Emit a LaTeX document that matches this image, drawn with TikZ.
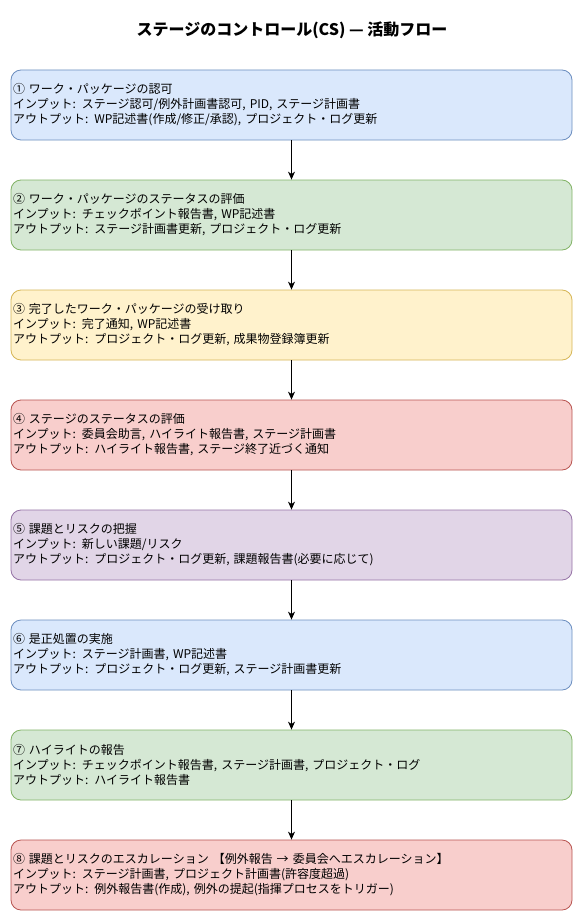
\documentclass[tikz,border=0pt]{standalone}
\usepackage{fontspec}
\setmainfont{Noto Sans CJK JP}
\usetikzlibrary{arrows.meta}
\definecolor{bfill}{HTML}{DAE8FC}\definecolor{bline}{HTML}{6C8EBF}
\definecolor{gfill}{HTML}{D5E8D4}\definecolor{gline}{HTML}{82B366}
\definecolor{yfill}{HTML}{FFF2CC}\definecolor{yline}{HTML}{D6B656}
\definecolor{rfill}{HTML}{F8CECC}\definecolor{rline}{HTML}{B85450}
\definecolor{pfill}{HTML}{E1D5E7}\definecolor{pline}{HTML}{9673A6}
\begin{document}
\begin{tikzpicture}[x=1pt,y=-1pt,
  stepbox/.style={rounded corners=10pt, line width=0.8pt, minimum height=70pt,
    text width=557pt, inner xsep=2pt, inner ysep=0pt, align=left,
    font=\fontsize{12}{15}\selectfont},
  blue/.style={stepbox, fill=bfill, draw=bline},
  green/.style={stepbox, fill=gfill, draw=gline},
  yellow/.style={stepbox, fill=yfill, draw=yline},
  red/.style={stepbox, fill=rfill, draw=rline},
  purple/.style={stepbox, fill=pfill, draw=pline},
  flow/.style={-{Stealth[length=8pt,width=7pt,inset=2.5pt]}, line width=0.8pt, black}]
\useasboundingbox (0,0) rectangle (584,923);
\fill[white] (0,0) rectangle (584,923);
\node[font=\fontsize{16}{19}\bfseries\selectfont] (title) at (292,30) {ステージのコントロール(CS) — 活動フロー};
\node[blue] (b1) at (291.5,105) {① ワーク・パッケージの認可\\インプット: ステージ認可/例外計画書認可, PID, ステージ計画書\\アウトプット: WP記述書(作成/修正/承認), プロジェクト・ログ更新};
\node[green] (b2) at (291.5,215) {② ワーク・パッケージのステータスの評価\\インプット: チェックポイント報告書, WP記述書\\アウトプット: ステージ計画書更新, プロジェクト・ログ更新};
\node[yellow] (b3) at (291.5,325) {③ 完了したワーク・パッケージの受け取り\\インプット: 完了通知, WP記述書\\アウトプット: プロジェクト・ログ更新, 成果物登録簿更新};
\node[red] (b4) at (291.5,435) {④ ステージのステータスの評価\\インプット: 委員会助言, ハイライト報告書, ステージ計画書\\アウトプット: ハイライト報告書, ステージ終了近づく通知};
\node[purple] (b5) at (291.5,545) {⑤ 課題とリスクの把握\\インプット: 新しい課題/リスク\\アウトプット: プロジェクト・ログ更新, 課題報告書(必要に応じて)};
\node[blue] (b6) at (291.5,655) {⑥ 是正処置の実施\\インプット: ステージ計画書, WP記述書\\アウトプット: プロジェクト・ログ更新, ステージ計画書更新};
\node[green] (b7) at (291.5,765) {⑦ ハイライトの報告\\インプット: チェックポイント報告書, ステージ計画書, プロジェクト・ログ\\アウトプット: ハイライト報告書};
\node[red] (b8) at (291.5,875) {⑧ 課題とリスクのエスカレーション 【例外報告 → 委員会へエスカレーション】\\インプット: ステージ計画書, プロジェクト計画書(許容度超過)\\アウトプット: 例外報告書(作成), 例外の提起(指揮プロセスをトリガー)};
\foreach \a/\b in {b1/b2,b2/b3,b3/b4,b4/b5,b5/b6,b6/b7,b7/b8}
  \draw[flow] (\a.south) -- (\b.north);
\end{tikzpicture}
\end{document}
